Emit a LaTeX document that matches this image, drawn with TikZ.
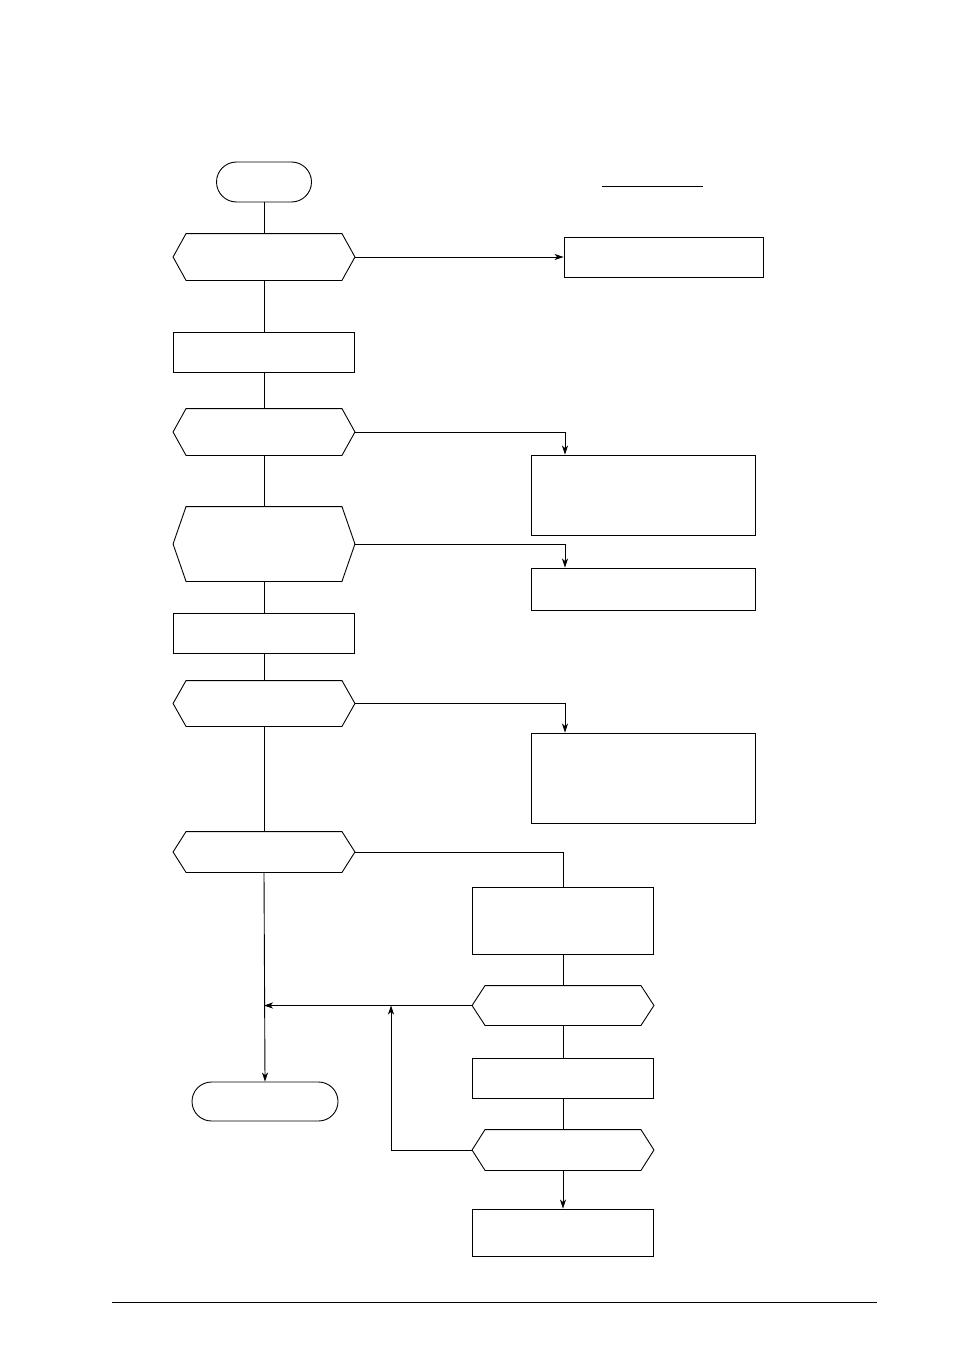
\documentclass[tikz,border=0pt]{standalone}
\usepackage{tikz}
\usetikzlibrary{arrows,arrows.meta,shapes.misc}

\tikzset{
  box/.style={draw, rectangle, inner sep=0pt, minimum width=181pt, minimum height=40pt},
  terminal/.style={draw, rounded rectangle, inner sep=0pt, minimum height=40pt},
  decision/.style={inner sep=0pt, minimum width=181pt, minimum height=#1,
    append after command={\pgfextra{\draw (\tikzlastnode.west)
      -- ([xshift=13pt]\tikzlastnode.north west) -- ([xshift=-13pt]\tikzlastnode.north east)
      -- (\tikzlastnode.east)
      -- ([xshift=-13pt]\tikzlastnode.south east) -- ([xshift=13pt]\tikzlastnode.south west)
      -- cycle;}}},
  decision/.default=46pt,
  flow/.style={-{Stealth[length=9pt,width=6pt,inset=2.5pt]}}
}

\begin{document}
\begin{tikzpicture}[x=1pt, y=-1pt, line width=0.9pt]

  \useasboundingbox (0,0) rectangle (954,1351);

  % main column
  \node[terminal, minimum width=95pt] (start) at (264,182) {};
  \node[decision] (d1) at (264,257) {};
  \node[box] (p1) at (264,352) {};
  \node[decision] (d2) at (264,432) {};
  \node[decision=74pt] (d3) at (264,544) {};
  \node[box] (p2) at (264,633) {};
  \node[decision=45pt] (d4) at (264,703.5) {};
  \node[decision=40pt] (d5) at (264,852) {};
  \node[terminal, minimum width=146pt, minimum height=39pt] (end) at (265,1101.5) {};

  % right side
  \node[box, minimum width=199pt] (r1) at (663.5,257) {};
  \node[box, minimum width=224pt, minimum height=80pt] (r2) at (643,495) {};
  \node[box, minimum width=224pt, minimum height=42pt] (r3) at (643,589) {};
  \node[box, minimum width=224pt, minimum height=90pt] (r4) at (643,778) {};

  \node[box, minimum height=67pt] (p3) at (563,920.5) {};
  \node[decision=39pt] (d6) at (563,1005.5) {};
  \node[box] (p4) at (563,1078) {};
  \node[decision=40pt] (d7) at (563,1150) {};
  \node[box, minimum height=47pt] (p5) at (563,1232.5) {};

  \coordinate (cr) at (565,0);
  \coordinate (lp) at (391,0);

  % connectors
  \draw (start.south) -- (d1.north);
  \draw (d1.south) -- (p1.north);
  \draw (p1.south) -- (d2.north);
  \draw (d2.south) -- (d3.north);
  \draw (d3.south) -- (p2.north);
  \draw (p2.south) -- (d4.north);
  \draw (d4.south) -- (d5.north);
  \draw[flow] (d5.south) -- (end.north);

  \draw[flow] (d1.east) -- (r1.west);
  \draw[flow] (d2.east) -| (cr |- r2.north);
  \draw[flow] (d3.east) -| (cr |- r3.north);
  \draw[flow] (d4.east) -| (cr |- r4.north);
  \draw (d5.east) -| (p3.north);

  \draw (p3.south) -- (d6.north);
  \draw (d6.south) -- (p4.north);
  \draw (p4.south) -- (d7.north);
  \draw[flow] (d7.south) -- (p5.north);

  \draw[flow] (d6.west) -- (d6.west -| d5.south);
  \draw[flow] (d7.west) -| (lp |- d6.west);

  % title rule and footer rule
  \draw (602,186) -- (703,186);
  \draw (112,1302) -- (877,1302);

\end{tikzpicture}
\end{document}
